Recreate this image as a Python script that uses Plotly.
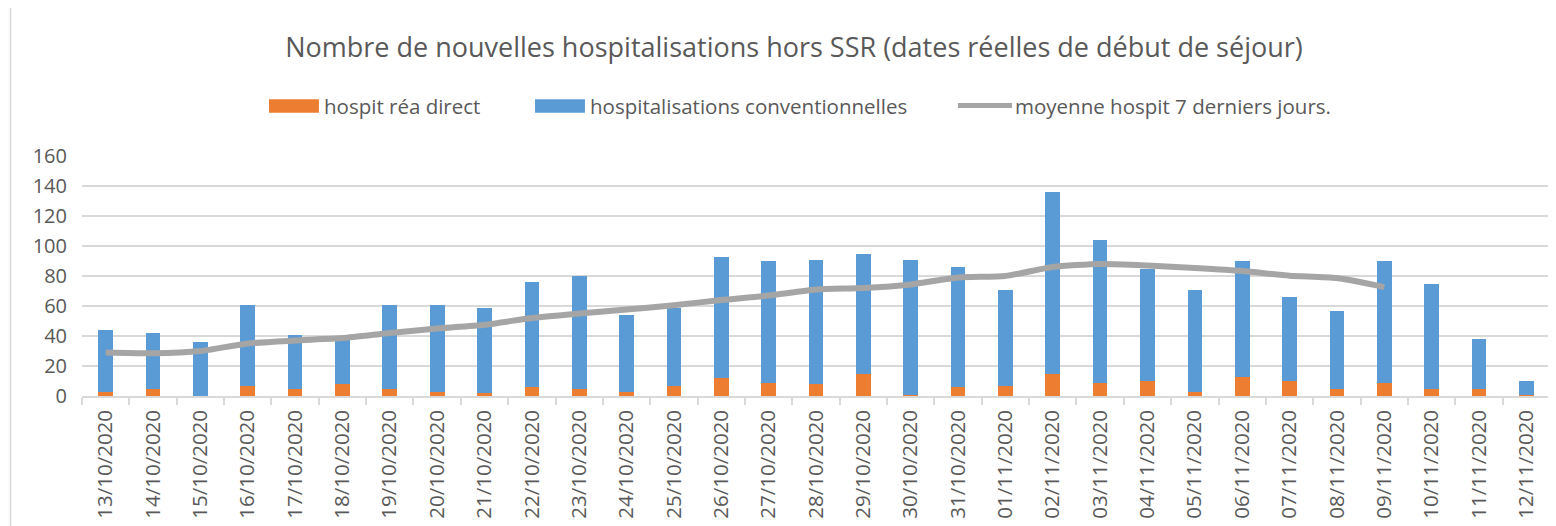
import plotly.graph_objects as go

dates = ["13/10/2020","14/10/2020","15/10/2020","16/10/2020","17/10/2020","18/10/2020","19/10/2020",
         "20/10/2020","21/10/2020","22/10/2020","23/10/2020","24/10/2020","25/10/2020","26/10/2020",
         "27/10/2020","28/10/2020","29/10/2020","30/10/2020","31/10/2020","01/11/2020","02/11/2020",
         "03/11/2020","04/11/2020","05/11/2020","06/11/2020","07/11/2020","08/11/2020","09/11/2020",
         "10/11/2020","11/11/2020","12/11/2020"]
rea = [3, 5, 0, 7, 5, 8, 5, 3, 2, 6, 5, 3, 7, 12, 9, 8, 15, 1, 6, 7, 15,
       9, 10, 3, 13, 10, 5, 9, 5, 5, 1]
conv = [41, 37, 36, 54, 36, 30, 56, 58, 57, 70, 75, 51, 52, 81, 81, 83, 80, 90, 80, 64, 121,
        95, 75, 68, 77, 56, 52, 81, 70, 33, 9]
moyenne = [29, 28.5, 30, 35, 37, 38.6, 42, 45, 47.5, 52, 55, 57.7, 60.5, 64, 67, 71, 72, 74.4, 79, 80, 86,
           88, 87, 85.3, 83.3, 80.2, 78.6, 72.6]
series_names = ["hospit réa direct", "hospitalisations conventionnelles", "moyenne hospit 7 derniers jours."]
series_colors = ["#ED7D31", "#5B9BD5", "#A5A5A5"]

grey = "#595959"
fig = go.Figure()
fig.add_trace(go.Bar(x=dates, y=rea, name=series_names[0], showlegend=False,
                     marker=dict(color=series_colors[0], line=dict(width=0))))
fig.add_trace(go.Bar(x=dates, y=conv, name=series_names[1], showlegend=False,
                     marker=dict(color=series_colors[1], line=dict(width=0))))
fig.add_trace(go.Scatter(x=dates[:len(moyenne)], y=moyenne, name=series_names[2], showlegend=False,
                         mode="lines", line=dict(color=series_colors[2], width=6, shape="spline", smoothing=0.6)))

# custom legend (wide swatches like the original)
leg_y0, leg_y1, leg_yc = 1.18, 1.236, 1.207
shapes = [
    dict(type="rect", xref="paper", yref="paper", x0=-0.0487, x1=1.02, y0=-0.6, y1=1.628,
         line=dict(color="#d9d9d9", width=1.5), fillcolor="rgba(0,0,0,0)", layer="below"),
    dict(type="rect", xref="paper", yref="paper", x0=0.1274, x1=0.1614, y0=leg_y0, y1=leg_y1,
         line=dict(width=0), fillcolor=series_colors[0]),
    dict(type="rect", xref="paper", yref="paper", x0=0.3086, x1=0.3426, y0=leg_y0, y1=leg_y1,
         line=dict(width=0), fillcolor=series_colors[1]),
    dict(type="line", xref="paper", yref="paper", x0=0.5967, x1=0.6335, y0=1.21, y1=1.21,
         line=dict(color=series_colors[2], width=5)),
]
annotations = [
    dict(text=series_names[0], x=0.1635, y=leg_yc),
    dict(text=series_names[1], x=0.3447, y=leg_yc),
    dict(text=series_names[2], x=0.6345, y=leg_yc),
]
for a in annotations:
    a.update(xref="paper", yref="paper", xanchor="left", yanchor="middle", showarrow=False,
             font=dict(size=20.5, color=grey))

fig.update_layout(
    width=1548, height=518,
    barmode="stack", bargap=0.69,
    paper_bgcolor="white", plot_bgcolor="white",
    margin=dict(l=74, r=6, t=148, b=130),
    font=dict(family="Open Sans, sans-serif", color=grey, size=18),
    title=dict(text="Nombre de nouvelles hospitalisations hors SSR (dates réelles de début de séjour)",
               x=0.485, xref="paper", y=0.923, yref="container", xanchor="center", yanchor="middle",
               font=dict(size=27, color=grey)),
    showlegend=False,
    shapes=shapes,
    annotations=annotations,
)
fig.update_yaxes(range=[0, 160], dtick=20, showgrid=True, gridcolor="#d9d9d9", gridwidth=1.5,
                 zeroline=False, tickfont=dict(size=20, color=grey), ticks="", showline=False,
                 ticklabelstandoff=14)
fig.update_xaxes(type="category", tickangle=-90, tickfont=dict(size=20.5, color=grey),
                 showline=True, linecolor="#d9d9d9", linewidth=1.5, ticks="outside",
                 tickson="boundaries", ticklen=7, tickcolor="#d9d9d9", tickwidth=1.5, showgrid=False,
                 ticklabelstandoff=4)

fig.write_html("out.html")
